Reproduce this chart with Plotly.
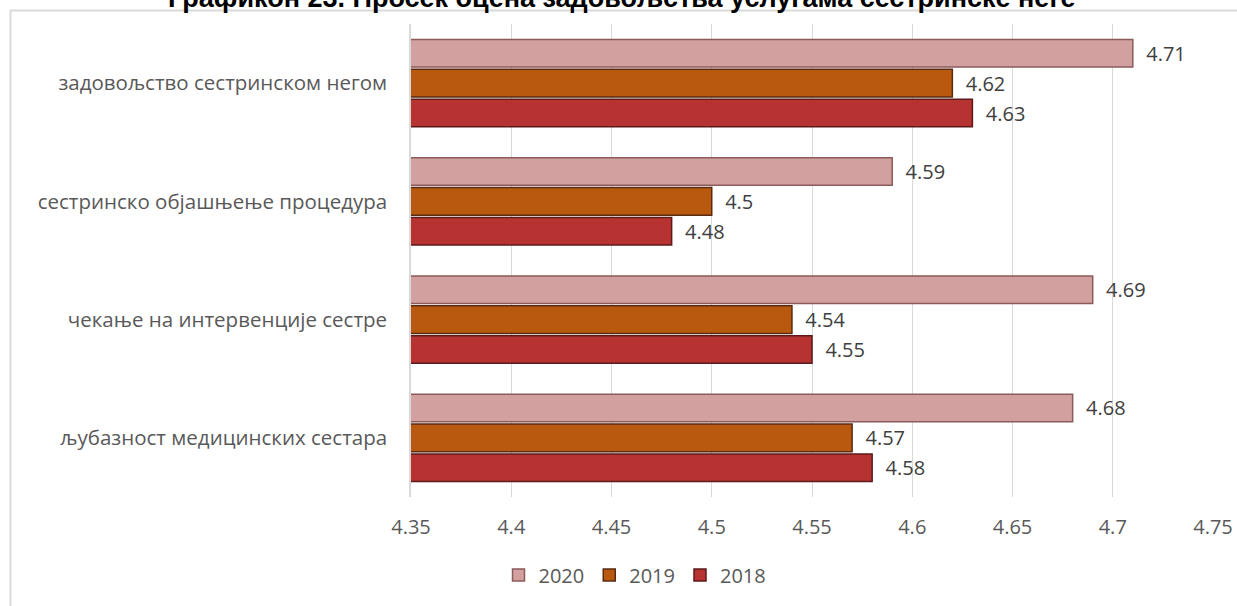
import plotly.graph_objects as go

categories = [
    "љубазност медицинских сестара",
    "чекање на интервенције сестре",
    "сестринско објашњење процедура",
    "задовољство сестринском негом",
]
values_2018 = [4.58, 4.55, 4.48, 4.63]
values_2019 = [4.57, 4.54, 4.50, 4.62]
values_2020 = [4.68, 4.69, 4.59, 4.71]
tick_vals = [4.35, 4.4, 4.45, 4.5, 4.55, 4.6, 4.65, 4.7, 4.75]
title_text = "Графикон 23. Просек оцена задовољства услугама сестринске неге"

series = [
    ("2018", values_2018, "#b73332", "#5c1a1a"),
    ("2019", values_2019, "#b9590f", "#5a2a12"),
    ("2020", values_2020, "#d3a0a0", "#8c5a5a"),
]

fig = go.Figure()
for name, vals, fill, edge in series:
    fig.add_trace(go.Bar(
        y=categories, x=vals, name=name, orientation="h",
        marker=dict(color=fill, line=dict(color=edge, width=1.5)),
        text=[f"{v:g}" for v in vals],
        texttemplate="  %{text}",
        textposition="outside", cliponaxis=False,
        textfont=dict(family="Open Sans", size=20, color="#404040"),
    ))

L, R, T, B = 411, 24, 24, 109
W, H = 1237, 606
pw, ph = W - L - R, H - T - B

fig.update_layout(
    width=W, height=H,
    margin=dict(l=L, r=R, t=T, b=B, autoexpand=False),
    barmode="group", bargap=0.24, bargroupgap=0.08,
    plot_bgcolor="white", paper_bgcolor="white",
    font=dict(family="Open Sans", color="#595959", size=20),
    showlegend=True,
    legend=dict(orientation="h", traceorder="reversed",
                x=635 / W, xref="container", xanchor="center",
                y=1 - 575 / H, yref="container", yanchor="middle",
                font=dict(size=20, color="#595959"),
                tracegroupgap=0, itemwidth=30),
    xaxis=dict(range=[4.35, 4.75], tickvals=tick_vals,
               ticktext=[f"{t:g}" for t in tick_vals],
               showgrid=True, gridcolor="#d9d9d9", gridwidth=1,
               zeroline=False, showline=False, automargin=False,
               tickangle=0,
               tickfont=dict(size=20, color="#595959"),
               ticklabelstandoff=16),
    yaxis=dict(showgrid=False, showline=True, linecolor="#d9d9d9", linewidth=1.5,
               automargin=False,
               tickfont=dict(size=20.5, color="#595959"),
               ticklabelstandoff=18),
    shapes=[dict(type="rect", xref="paper", yref="paper",
                 x0=(10.5 - L) / pw, x1=(W + 10 - L) / pw,
                 y0=-(H + 10 - (H - B)) / ph, y1=1 + (T - 10.5) / ph,
                 line=dict(color="#d9d9d9", width=2), layer="below")],
    annotations=[dict(text="<b>" + title_text + "</b>", xref="paper", yref="paper",
                      x=(622 - L) / pw, y=1 + (T + 2) / ph,
                      xanchor="center", yanchor="middle", showarrow=False,
                      font=dict(family="Liberation Sans", size=27, color="#000000"))],
)

fig.write_html("out.html", config={"displayModeBar": False},
               post_script="document.body.style.margin='0';")
